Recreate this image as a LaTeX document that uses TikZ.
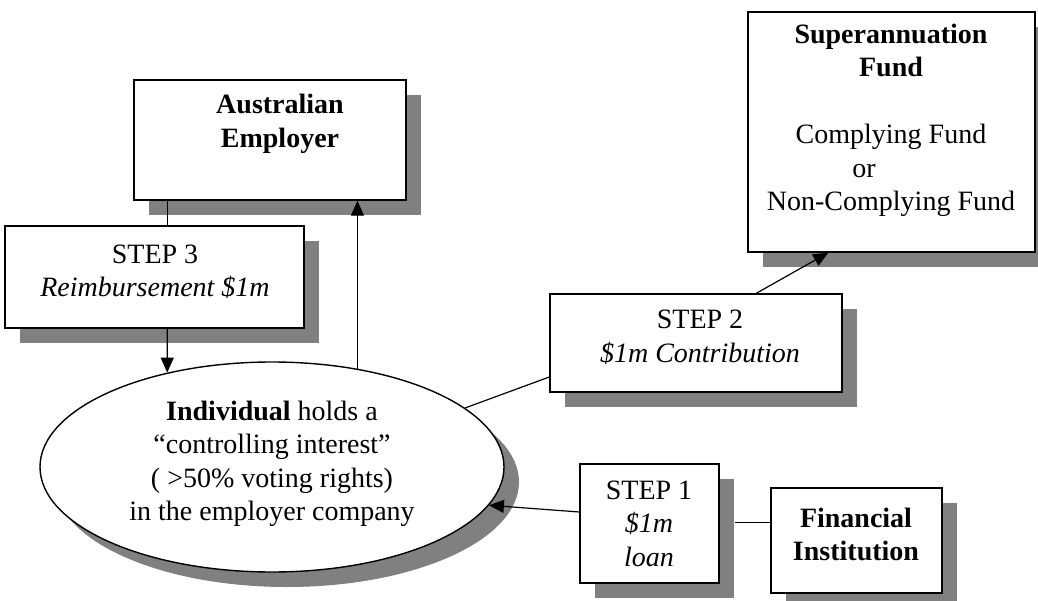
\documentclass[tikz,border=0pt]{standalone}
\usepackage{fontspec}
\setmainfont{Liberation Serif}
\usetikzlibrary{arrows.meta,shadows,shapes.geometric}
\definecolor{shadowgray}{HTML}{808080}
\begin{document}
\begin{tikzpicture}[x=1pt,y=-1pt,
  shad/.style={drop shadow={shadow xshift=15pt,shadow yshift=-15pt,fill=shadowgray,opacity=1}},
  box/.style={draw=black,line width=1.4pt,fill=white,shad,inner sep=0pt},
  txt/.style={align=center,inner sep=0pt,font=\fontsize{28}{33.5}\selectfont},
  conn/.style={line width=1.2pt},
  arr/.style={conn,-{Triangle[length=15pt,width=13pt]}}
]
\useasboundingbox[fill=white] (0,0) rectangle (1038,601);

% boxes
\node[box,minimum width=272pt,minimum height=120pt] (ae) at (270,140) {};
\node[box,minimum width=299pt,minimum height=102pt] (s3) at (154.5,277) {};
\node[box,ellipse,minimum width=464pt,minimum height=210pt] (el) at (272,467) {};
\node[box,minimum width=292pt,minimum height=98pt] (s2) at (696,343) {};
\node[box,minimum width=287pt,minimum height=240pt] (sf) at (891.5,132) {};
\node[box,minimum width=139pt,minimum height=119pt] (s1) at (649.5,523.5) {};
\node[box,minimum width=171pt,minimum height=105pt] (fin) at (856.5,540.5) {};

% texts
\node[txt] (aet) at (280,124) {\textbf{Australian}\\\textbf{Employer}};
\node[txt] (s3t) at (155,272) {STEP 3\\\textit{Reimbursement \$1m}};
\node[txt] (elt) at (272,464) {\textbf{Individual} holds a\\“controlling interest”\\( >50\% voting rights)\\in the employer company};
\node[txt] (s2t) at (700,337.5) {STEP 2\\\textit{\$1m Contribution}};
\node[txt] (sft) at (891,120.5) {\textbf{Superannuation}\\\textbf{Fund}\\[33.5pt]Complying Fund\\or\rule{54pt}{0pt}\\Non-Complying Fund};
\node[txt] (s1t) at (649,523.5) {STEP 1\\\textit{\$1m}\\\textit{loan}};
\node[txt] (fint) at (856,534.5) {\textbf{Financial}\\\textbf{Institution}};

% connectors
\draw[conn] ([xshift=34pt]ae.south west) -- ([xshift=34pt]ae.south west |- s3.north);
\draw[arr] ([xshift=163pt]s3.south west) -- (el.138);
\draw[arr] (el.49.4) -- (el.49.4 |- ae.south);
\draw[conn] ([yshift=-34pt]s2.north west |- s2.west) -- (el.17);
\draw[arr] ([xshift=207pt]s2.north west) -- ([xshift=81pt]sf.south west);
\draw[arr] ([yshift=11.5pt]s1.west) -- (el.-10);
\coordinate (s1shadow) at ([xshift=15pt]s1.east);
\draw[conn] ([yshift=18pt]fin.west) -- ([yshift=18pt]fin.west -| s1shadow);
\end{tikzpicture}
\end{document}
